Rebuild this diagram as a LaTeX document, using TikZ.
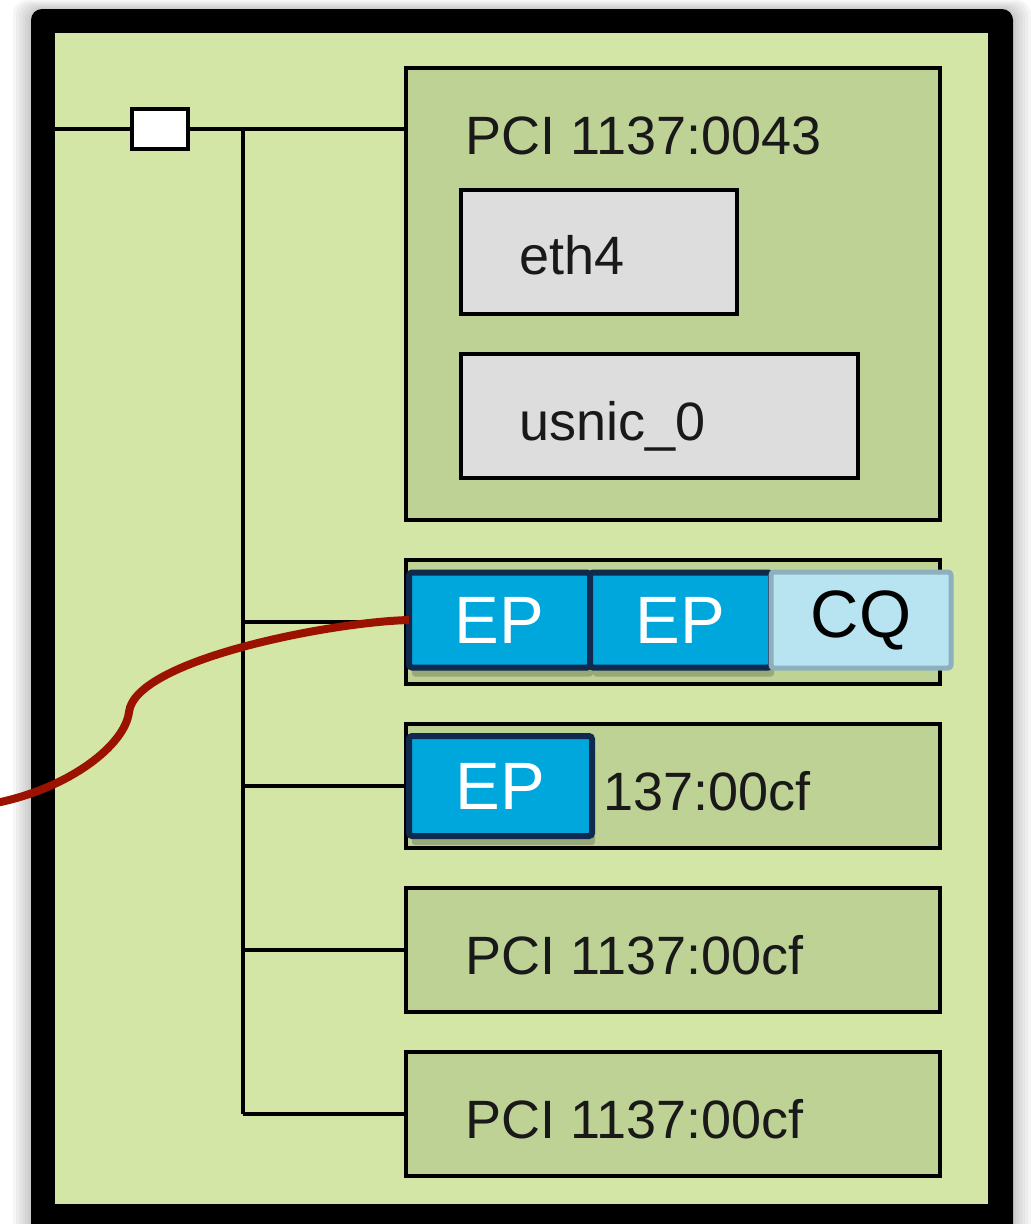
\documentclass[tikz,border=0pt]{standalone}
\usepackage{fontspec}
\setmainfont{Liberation Sans}
\usepackage{tikz}
\usetikzlibrary{positioning, shadows, calc}
\definecolor{hostgreen}{RGB}{211,230,166}
\definecolor{pcigreen}{RGB}{191,210,150}
\definecolor{devgray}{RGB}{221,221,221}
\definecolor{epblue}{RGB}{0,167,221}
\definecolor{epnavy}{RGB}{15,42,78}
\definecolor{cqblue}{RGB}{184,228,242}
\definecolor{cqedge}{RGB}{141,176,190}
\definecolor{qpred}{RGB}{155,18,0}
\tikzset{
  host/.style={rectangle, fill=hostgreen, minimum width=933pt, minimum height=1171pt,
    inner sep=0pt, outer sep=0pt},
  pci/.style={rectangle, draw=black, fill=pcigreen, line width=3.5pt, outer sep=0pt,
    minimum width=534pt, minimum height=124pt, inner sep=0pt},
  dev/.style={rectangle, draw=black, fill=devgray, line width=3.5pt, outer sep=0pt,
    minimum height=124pt, inner sep=0pt},
  txt/.style={font=\fontsize{54}{60}\selectfont, text=black!90, inner sep=0pt, anchor=base west},
  ep/.style={rectangle, draw=epnavy, fill=epblue, line width=6pt, rounded corners=3pt,
    outer sep=0pt, minimum width=181pt, minimum height=95pt, inner sep=0pt,
    text=white, font=\fontsize{67}{72}\selectfont},
  cq/.style={rectangle, draw=cqedge, fill=cqblue, line width=5pt, rounded corners=3pt,
    outer sep=0pt, minimum width=180pt, minimum height=96pt, inner sep=0pt,
    text=black, font=\fontsize{67}{72}\selectfont},
  epshade/.style={drop shadow={shadow xshift=3pt, shadow yshift=-9pt, fill=black, opacity=0.2}},
  sw/.style={rectangle, draw=black, fill=white, line width=4pt, minimum width=56pt,
    minimum height=40pt, inner sep=0pt},
  link/.style={line width=3.5pt, black},
  qp/.style={line width=8pt, qpred}
}
\begin{document}
\begin{tikzpicture}[x=1pt, y=-1pt, node distance=40pt]
  \useasboundingbox (0,0) rectangle (1031,1224);
  \foreach \s in {3,6,...,18}
    \fill[black, opacity=0.035, rounded corners=14pt] (31-\s,9-\s/2) rectangle (1013+\s,1240);
  \fill[black, rounded corners=11pt] (31,9) rectangle (1013,1240);
  \node[host] (host) at (521.5,618.5) {};

  \node[pci, minimum height=452pt, anchor=north west] (pci1) at (406,68) {};
  \node[pci, below=of pci1] (pci2) {};
  \node[pci, below=of pci2] (pci3) {};
  \node[pci, below=of pci3] (pci4) {};
  \node[pci, below=of pci4] (pci5) {};

  \node[txt] at ([xshift=59pt, yshift=-86pt]pci1.north west) {PCI 1137:0043};
  \node[dev, minimum width=276pt, anchor=north west] (eth) at (461,190) {};
  \node[dev, minimum width=397pt, anchor=north west] (usnic) at (461,354) {};
  \node[txt] at ([xshift=58pt, yshift=-22pt]eth.west) {eth4};
  \node[txt] at ([xshift=58pt, yshift=-24pt]usnic.west) {usnic\_0};
  \node[txt] at ([xshift=197pt, yshift=-24pt]pci3.west) {137:00cf};
  \node[txt] at ([xshift=59pt, yshift=-24pt]pci4.west) {PCI 1137:00cf};
  \node[txt] at ([xshift=59pt, yshift=-24pt]pci5.west) {PCI 1137:00cf};

  \coordinate (swc) at (160,129);
  \coordinate (tap) at (243,129);
  \draw[link] (host.west |- swc) -- (swc -| pci1.west);
  \draw[link] (tap) -- (tap |- pci5.west);
  \foreach \b in {pci2,pci3,pci4,pci5}
    \draw[link] (tap |- \b.west) -- (\b.west);
  \node[sw] (switch) at (swc) {};

  \node[ep, epshade, anchor=west] (ep1) at ([xshift=3pt, yshift=2pt]pci2.west) {EP};
  \node[ep, epshade, right=0pt of ep1] (ep2) {EP};
  \node[cq, right=0pt of ep2] (cq) {CQ};
  \node[ep, epshade, minimum width=183pt, minimum height=100pt, anchor=west] (ep3)
    at ([xshift=3pt]pci3.west) {EP};

  \coordinate (wire) at (-4,803);
  \draw[qp] (ep1.west) .. controls (330,622) and (135,660) .. (129,712)
    .. controls (125,745) and (70,788) .. (wire);
\end{tikzpicture}
\end{document}
